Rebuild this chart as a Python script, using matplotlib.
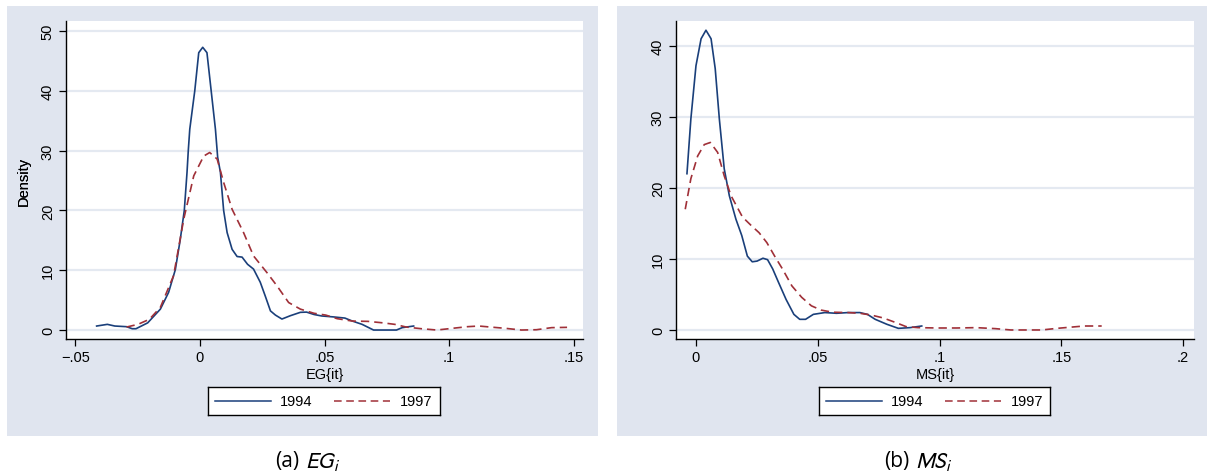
import matplotlib
matplotlib.use("Agg")
import matplotlib.pyplot as plt
from matplotlib.patches import Rectangle
from matplotlib.lines import Line2D

# ---------------- data ----------------
eg94_x = [-0.0415, -0.0372, -0.0342, -0.0295, -0.0272, -0.0257, -0.021, -0.0159, -0.0126,
          -0.0099, -0.0079, -0.0063, -0.0052, -0.0047, -0.0041, -0.0021, -0.0005, 0.0011,
          0.0028, 0.0045, 0.0062, 0.0071, 0.0082, 0.0095, 0.0109, 0.0129, 0.0149, 0.0169,
          0.0191, 0.0215, 0.0242, 0.0262, 0.0283, 0.0303, 0.0329, 0.0363, 0.0403, 0.0428,
          0.0458, 0.0489, 0.0535, 0.0582, 0.0612, 0.0651, 0.0697, 0.0735, 0.0789, 0.0812,
          0.0858]
eg94_y = [0.67, 0.95, 0.67, 0.56, 0.22, 0.22, 1.2, 3.5, 6.3,
          10.1, 15.2, 20.0, 26.4, 30.0, 33.6, 40.0, 46.4, 47.3,
          46.4, 40.0, 33.6, 28.9, 26.4, 20.0, 16.3, 13.5, 12.3, 12.2,
          11.0, 10.2, 8.0, 5.7, 3.2, 2.5, 1.84, 2.4, 2.96, 3.0,
          2.6, 2.35, 2.2, 2.0, 1.5, 0.95, 0.0, 0.0, 0.0, 0.4,
          0.67]

eg97_x = [-0.0295, -0.0249, -0.0203, -0.0159, -0.0106, -0.0065, -0.0025, 0.0015, 0.0039,
          0.0069, 0.0095, 0.0129, 0.0175, 0.0215, 0.0269, 0.0309, 0.0356, 0.0403, 0.0458,
          0.0505, 0.0551, 0.0612, 0.0674, 0.0735, 0.0782, 0.0828, 0.0889, 0.0951, 0.1012,
          0.1074, 0.112, 0.1166, 0.1228, 0.129, 0.1351, 0.1412, 0.1474]
eg97_y = [0.5, 0.95, 1.8, 3.8, 9.1, 18.6, 25.8, 29.1, 29.7,
          28.6, 24.7, 20.2, 16.3, 12.4, 9.6, 7.4, 4.6, 3.5, 2.8,
          2.5, 1.9, 1.5, 1.45, 1.2, 0.95, 0.5, 0.22, 0.0, 0.28,
          0.56, 0.67, 0.5, 0.28, 0.0, 0.05, 0.4, 0.45]

ms94_x = [-0.0037, -0.0021, 0.0, 0.0021, 0.0041, 0.0062, 0.0079, 0.0096, 0.0116,
          0.0137, 0.0164, 0.0188, 0.0211, 0.0231, 0.0251, 0.0275, 0.0294, 0.0315,
          0.0339, 0.037, 0.0402, 0.0426, 0.045, 0.0482, 0.0529, 0.0577, 0.0625, 0.0673,
          0.0704, 0.0736, 0.0784, 0.0831, 0.0879, 0.0927]
ms94_y = [22.0, 29.7, 37.2, 41.0, 42.2, 41.0, 36.8, 29.7, 22.7,
          18.9, 15.6, 13.3, 10.4, 9.6, 9.7, 10.1, 9.9, 8.6,
          6.7, 4.3, 2.2, 1.5, 1.5, 2.2, 2.45, 2.35, 2.45, 2.45,
          2.2, 1.5, 0.8, 0.23, 0.33, 0.56]

ms97_x = [-0.0044, -0.0021, 0.0007, 0.0034, 0.0059, 0.0089, 0.0116, 0.0144, 0.0191,
          0.0227, 0.0259, 0.0291, 0.0323, 0.0355, 0.0394, 0.0434, 0.0474,
          0.0514, 0.0561, 0.0625, 0.0673, 0.072, 0.0768, 0.0816, 0.0863, 0.0911, 0.0991,
          0.107, 0.115, 0.1229, 0.1293, 0.1356, 0.142, 0.1483, 0.1547, 0.1594, 0.1666]
ms97_y = [17.0, 21.3, 24.5, 26.1, 26.4, 25.0, 21.7, 18.9, 15.9,
          14.7, 13.7, 12.3, 10.4, 8.6, 6.2, 4.6, 3.4,
          2.8, 2.5, 2.45, 2.35, 2.1, 1.7, 1.1, 0.47, 0.33, 0.28,
          0.28, 0.33, 0.19, 0.0, 0.0, 0.0, 0.23, 0.42, 0.56, 0.56]

series_labels = ["1994", "1997"]
eg_xticks = [-0.05, 0, 0.05, 0.1, 0.15]
eg_xticklabels = ["\u2212.05", "0", ".05", ".1", ".15"]
eg_yticks = [0, 10, 20, 30, 40, 50]
ms_xticks = [0, 0.05, 0.1, 0.15, 0.2]
ms_xticklabels = ["0", ".05", ".1", ".15", ".2"]
ms_yticks = [0, 10, 20, 30, 40]
caption_prefix = ["(a)", "(b)"]
caption_math = [r"$\mathit{EG}_i$", r"$\mathit{MS}_i$"]
xlabels = ["EG{it}", "MS{it}"]

# ---------------- style ----------------
plt.rcParams["font.family"] = ["Liberation Sans", "DejaVu Sans"]
plt.rcParams["mathtext.fontset"] = "stixsans"
BG = "#e0e5ef"
GRID = "#e4e9f1"
NAVY = "#1a3f7a"
MAROON = "#a03038"

W, H = 1207, 477
fig = plt.figure(figsize=(W / 100, H / 100), dpi=100)
fig.patch.set_facecolor("white")

def fx(px):
    return px / W

def fy(py):
    return 1 - py / H

# panel backgrounds
for (x0, x1) in [(7, 598), (617, 1207)]:
    fig.patches.append(Rectangle((fx(x0), fy(437)), fx(x1 - x0), (437 - 7) / H,
                                 transform=fig.transFigure, facecolor=BG,
                                 edgecolor="none", zorder=-5))

panels = [
    dict(ax_px=(66, 583), xlim=(-0.0538, 0.1538), ylim=(-1.5, 51.7),
         xticks=eg_xticks, xtl=eg_xticklabels, yticks=eg_yticks,
         d94=(eg94_x, eg94_y), d97=(eg97_x, eg97_y), xlabel=xlabels[0],
         legend_px=(208, 440), cap=(caption_prefix[0], caption_math[0]), cap_x=303),
    dict(ax_px=(676, 1194), xlim=(-0.0082, 0.2045), ylim=(-1.27, 43.5),
         xticks=ms_xticks, xtl=ms_xticklabels, yticks=ms_yticks,
         d94=(ms94_x, ms94_y), d97=(ms97_x, ms97_y), xlabel=xlabels[1],
         legend_px=(819, 1050), cap=(caption_prefix[1], caption_math[1]), cap_x=913),
]

for p in panels:
    l, r = p["ax_px"]
    ax = fig.add_axes([fx(l), fy(340), fx(r - l), (340 - 22) / H])
    ax.set_facecolor("white")
    ax.set_xlim(*p["xlim"])
    ax.set_ylim(*p["ylim"])
    for yt in p["yticks"]:
        ax.axhline(yt, color=GRID, lw=1.6, zorder=1)
    ax.plot(p["d94"][0], p["d94"][1], color=NAVY, lw=1.2, zorder=3,
            solid_joinstyle="round", label=series_labels[0])
    ax.plot(p["d97"][0], p["d97"][1], color=MAROON, lw=1.2, ls=(0, (5, 3)),
            zorder=3, label=series_labels[1])
    ax.spines["top"].set_visible(False)
    ax.spines["right"].set_visible(False)
    ax.spines["left"].set_linewidth(1.0)
    ax.spines["bottom"].set_linewidth(1.0)
    ax.set_xticks(p["xticks"])
    ax.set_xticklabels(p["xtl"])
    ax.set_yticks(p["yticks"])
    ax.set_yticklabels([str(v) for v in p["yticks"]], rotation=90, va="center")
    ax.tick_params(axis="both", direction="out", length=5, width=0.9,
                   labelsize=10.5, colors="black")
    ax.tick_params(axis="x", pad=3)
    ax.tick_params(axis="y", pad=3)
    ax.set_xlabel(p["xlabel"], fontsize=10.5, labelpad=2)
    ax.set_ylabel("Density", fontsize=10.5)
    ax.yaxis.set_label_coords((31 - l) / (r - l), 0.5)

    # legend box
    lx0, lx1 = p["legend_px"]
    lax = fig.add_axes([fx(lx0), fy(416), fx(lx1 - lx0), 28 / H])
    lax.set_xlim(0, lx1 - lx0)
    lax.set_ylim(0, 28)
    lax.set_xticks([])
    lax.set_yticks([])
    lax.set_facecolor("white")
    for s in lax.spines.values():
        s.set_linewidth(1.0)
        s.set_color("black")
    lax.add_line(Line2D([7, 63], [14, 14], color=NAVY, lw=1.1))
    lax.text(72, 14, series_labels[0], va="center", ha="left", fontsize=10.5)
    lax.add_line(Line2D([126, 182], [14, 14], color=MAROON, lw=1.1, ls=(0, (5, 3))))
    lax.text(192, 14, series_labels[1], va="center", ha="left", fontsize=10.5)

    cx = p["cap_x"]
    fig.text(fx(cx - 4), fy(462), p["cap"][0], ha="right", va="center",
             fontsize=15, family=["Open Sans", "DejaVu Sans"])
    fig.text(fx(cx + 2), fy(462), p["cap"][1], ha="left", va="center",
             fontsize=16)

fig.savefig("out.png", dpi=100)
